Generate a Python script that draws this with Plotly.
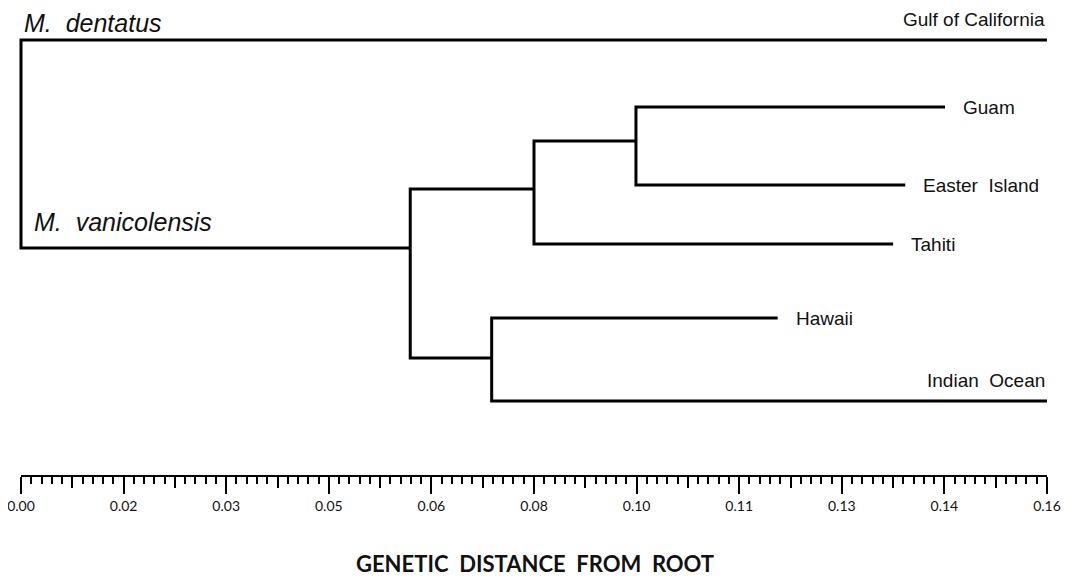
import plotly.graph_objects as go

# ---------------- data ----------------
node_ids = ["root", "gulf", "vanic", "cladeA", "cladeB", "guam", "easter",
            "tahiti", "cladeC", "hawaii", "indian"]
node_parent = [None, "root", "root", "vanic", "cladeA", "cladeB", "cladeB",
               "cladeA", "vanic", "cladeC", "cladeC"]
# genetic distance from root of each node
node_distance = [0.0, 0.160, 0.0607, 0.0800, 0.0959, 0.1441, 0.1379,
                 0.1360, 0.0734, 0.1180, 0.1600]
# vertical row position of each node (top = small)
node_row = [None, 40, 248, 189, 141, 107, 185, 244, 358, 318, 401]

leaf_labels = {
    "gulf": "Gulf of California",
    "guam": "Guam",
    "easter": "Easter\u00a0 Island",
    "tahiti": "Tahiti",
    "hawaii": "Hawaii",
    "indian": "Indian\u00a0 Ocean",
}
species_labels = {
    "gulf": "M.\u00a0 dentatus",
    "vanic": "M.\u00a0 vanicolensis",
}

tick_values = [0.0, 0.016, 0.032, 0.048, 0.064, 0.080, 0.096, 0.112,
               0.128, 0.144, 0.160]
tick_labels = ["0.00", "0.02", "0.03", "0.05", "0.06", "0.08", "0.10",
               "0.11", "0.13", "0.14", "0.16"]
minor_step = 0.0016
axis_title = "GENETIC\u00a0 DISTANCE\u00a0 FROM\u00a0 ROOT"

# ---------------- layout constants ----------------
OFF = 8                      # page body margin of the html page
W, H = 1073 - OFF, 580 - OFF
PX0, PX1 = 21 - OFF, 1047 - OFF   # pixel position of 0 and 0.16
AXIS_Y = 475 - OFF           # pixel row of scale bar line
TITLE_X, TITLE_Y = 535 - OFF, 563 - OFF
XMIN, XMAX = tick_values[0], tick_values[-1]
scale = (PX1 - PX0) / (XMAX - XMIN)
pad = 0.001
tree_dom = [(PX0 - pad * scale) / W, (PX1 + pad * scale) / W]

dist = dict(zip(node_ids, node_distance))
row = dict(zip(node_ids, node_row))
children = {}
for nid, par in zip(node_ids, node_parent):
    if par is not None:
        children.setdefault(par, []).append(nid)

xs, ys = [], []
for nid in node_ids:
    if nid not in children:
        continue
    kids = sorted(children[nid], key=lambda k: row[k])
    top, bot = kids[0], kids[-1]
    xs += [dist[top], dist[nid], dist[nid], dist[bot], None]
    ys += [row[top], row[top], row[bot], row[bot], None]
    for mid in kids[1:-1]:
        xs += [dist[nid], dist[mid], None]
        ys += [row[mid], row[mid], None]

fig = go.Figure()
fig.add_trace(go.Scatter(x=xs, y=ys, mode="lines",
                         line=dict(color="black", width=3),
                         hoverinfo="skip", xaxis="x", yaxis="y"))
fig.add_trace(go.Scatter(x=[XMIN, XMAX], y=[0, 0], mode="markers",
                         marker=dict(opacity=0), hoverinfo="skip",
                         xaxis="x2", yaxis="y2"))
fig.add_trace(go.Scatter(x=[XMIN, XMAX], y=[0, 0], mode="markers",
                         marker=dict(opacity=0), hoverinfo="skip",
                         xaxis="x3", yaxis="y2"))

annotations = []
max_d = max(node_distance)
label_font = dict(family="Liberation Sans, Arial, sans-serif", size=19,
                  color="#111")
for nid, text in leaf_labels.items():
    if dist[nid] >= max_d - 1e-9:
        annotations.append(dict(x=dist[nid], y=row[nid], xref="x", yref="y",
                                text=text, showarrow=False, xanchor="right",
                                yanchor="middle", yshift=21, xshift=0,
                                font=label_font))
    else:
        annotations.append(dict(x=dist[nid], y=row[nid], xref="x", yref="y",
                                text=text, showarrow=False, xanchor="left",
                                yanchor="middle", xshift=16,
                                font=label_font))

sp_font = dict(family="Liberation Sans, Arial, sans-serif", size=25,
               color="#111")
sp_shift = {"gulf": 1, "vanic": 11}
sp_yshift = {"gulf": 17, "vanic": 26}
for nid, text in species_labels.items():
    annotations.append(dict(x=0, y=row[nid], xref="x", yref="y",
                            text="<i>" + text + "</i>", showarrow=False,
                            xanchor="left", yanchor="middle",
                            xshift=sp_shift[nid], yshift=sp_yshift[nid],
                            font=sp_font))

annotations.append(dict(x=TITLE_X / W, y=(H - TITLE_Y) / H, xref="paper",
                        yref="paper", text="<b>" + axis_title + "</b>",
                        showarrow=False, xanchor="center", yanchor="middle",
                        font=dict(family="Lato, sans-serif", size=22,
                                  color="#111")))

mid_ticks = [(a + b) / 2 for a, b in zip(tick_values[:-1], tick_values[1:])]

fig.update_layout(
    width=W, height=H,
    margin=dict(l=0, r=0, t=0, b=0, pad=0),
    paper_bgcolor="white", plot_bgcolor="white",
    showlegend=False,
    annotations=annotations,
    xaxis=dict(domain=tree_dom, range=[XMIN - pad, XMAX + pad],
               visible=False, fixedrange=True, anchor="y", automargin=False),
    yaxis=dict(domain=[0, 1], range=[H + OFF, OFF], visible=False,
               fixedrange=True, anchor="x", automargin=False),
    xaxis2=dict(domain=[PX0 / W, PX1 / W], range=[XMIN, XMAX], anchor="y2",
                showline=True, linewidth=2, linecolor="black",
                ticks="outside", ticklen=17, tickwidth=2, tickcolor="black",
                tickmode="array", tickvals=tick_values, ticktext=tick_labels,
                tickfont=dict(family="Lato, sans-serif", size=14,
                              color="#111"),
                ticklabeloverflow="allow",
                showgrid=False, zeroline=False, fixedrange=True,
                automargin=False,
                minor=dict(ticks="outside", ticklen=7, tickwidth=1.5,
                           tickcolor="black", dtick=minor_step, tick0=0,
                           showgrid=False)),
    xaxis3=dict(domain=[PX0 / W, PX1 / W], range=[XMIN, XMAX], anchor="y2",
                overlaying="x2", showline=False, ticks="outside",
                ticklen=12, tickwidth=1.5, tickcolor="black",
                tickmode="array", tickvals=mid_ticks, showticklabels=False,
                showgrid=False, zeroline=False, fixedrange=True,
                automargin=False),
    yaxis2=dict(domain=[(H - AXIS_Y) / H, (H - AXIS_Y + 5) / H],
                range=[0, 1], visible=False, fixedrange=True, anchor="x2",
                automargin=False),
)

fig.write_html("out.html")
